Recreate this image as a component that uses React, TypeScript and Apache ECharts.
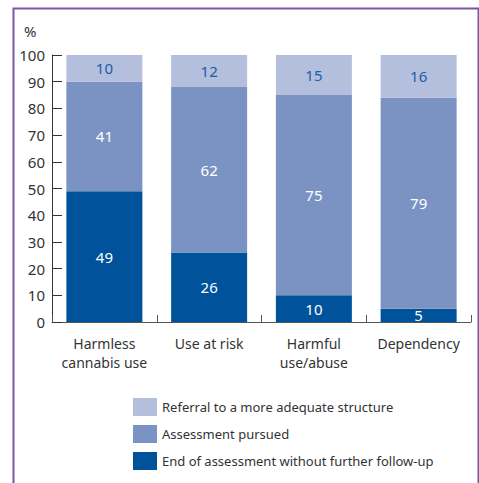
import React, { useEffect, useRef } from "react";
import * as echarts from "echarts";

const categories = ["Harmless\ncannabis use", "Use at risk", "Harmful\nuse/abuse", "Dependency"];
const endOfAssessment = [49, 26, 10, 5];
const assessmentPursued = [41, 62, 75, 79];
const referral = [10, 12, 15, 16];
const seriesNames = [
  "Referral to a more adequate structure",
  "Assessment pursued",
  "End of assessment without further follow-up",
];

const FONT = "Noto Sans";

export default function App() {
  const ref = useRef<HTMLDivElement>(null);
  useEffect(() => {
    document.body.style.margin = "0";
    const chart = echarts.init(ref.current!, null, { renderer: "svg" });
    const label = (color: string) => ({
      show: true,
      position: "inside",
      color,
      fontSize: 15,
      fontFamily: FONT,
    });
    chart.setOption({
      animation: false,
      textStyle: { fontFamily: FONT },
      graphic: [
        {
          type: "rect",
          shape: { x: 13.5, y: 8.5, width: 465, height: 520 },
          style: { fill: "none", stroke: "#7b55a8", lineWidth: 2 },
          silent: true,
        },
        {
          type: "text",
          left: 24,
          top: 23,
          style: { text: "%", fontSize: 15, fill: "#333", fontFamily: FONT },
        },
      ],
      grid: { left: 52, right: 8, top: 55, bottom: 161, containLabel: false },
      legend: {
        orient: "vertical",
        left: 133,
        top: 398,
        padding: 0,
        itemWidth: 24,
        itemHeight: 18,
        itemGap: 9,
        icon: "rect",
        data: seriesNames,
        textStyle: { fontSize: 13, color: "#333", fontFamily: FONT },
        selectedMode: false,
      },
      xAxis: {
        type: "category",
        data: categories,
        axisLine: { lineStyle: { color: "#555", width: 1 } },
        axisTick: { show: true, inside: true, length: 7, lineStyle: { color: "#555" } },
        axisLabel: { interval: 0, color: "#333", fontSize: 14, lineHeight: 19, margin: 12, fontFamily: FONT },
      },
      yAxis: {
        type: "value",
        min: 0,
        max: 100,
        interval: 10,
        splitLine: { show: false },
        axisLine: { show: true, lineStyle: { color: "#333", width: 1 } },
        axisTick: { show: true, inside: true, length: 10, lineStyle: { color: "#333" } },
        axisLabel: { color: "#333", fontSize: 15, margin: 7, fontFamily: FONT },
      },
      series: [
        {
          name: seriesNames[2],
          type: "bar",
          stack: "total",
          barWidth: 76,
          data: endOfAssessment,
          itemStyle: { color: "#00529b" },
          label: label("#ffffff"),
        },
        {
          name: seriesNames[1],
          type: "bar",
          stack: "total",
          barWidth: 76,
          data: assessmentPursued,
          itemStyle: { color: "#7a93c3" },
          label: label("#ffffff"),
        },
        {
          name: seriesNames[0],
          type: "bar",
          stack: "total",
          barWidth: 76,
          data: referral,
          itemStyle: { color: "#b4bedd" },
          label: label("#1a5ea8"),
        },
      ],
    });
    return () => chart.dispose();
  }, []);
  return <div ref={ref} style={{ width: 479, height: 483 }} />;
}
